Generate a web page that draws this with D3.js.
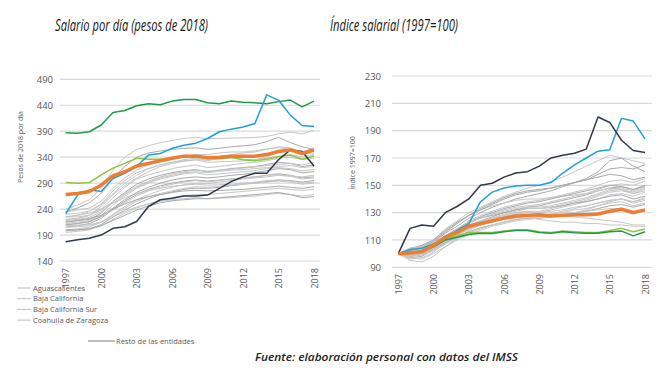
<!DOCTYPE html>
<meta charset="utf-8">
<script src="https://d3js.org/d3.v7.min.js"></script>
<style>
  body { margin: 0; background: #fff; }
  text { font-family: "Open Sans", "DejaVu Sans", sans-serif; }
</style>
<div id="chart"></div>
<script>

// years on the x axis
var years = d3.range(1997, 2019);
var yearTicks = [1997, 2000, 2003, 2006, 2009, 2012, 2015, 2018];

// left panel: pesos of 2018 per day
var salTicks = [140, 190, 240, 290, 340, 390, 440, 490];
var salDarkGreen = [387,386,389,402,426,430,439,443,441,448,451,451,445,443,448,446,445,443,447,450,437,448];
var salBlue = [231,267,277,274,299,309,322,344,347,357,363,367,376,389,394,398,405,460,450,421,401,399];
var salOrange = [268,270,274,286,304,312,323,328,333,338,342,342,339,340,342,342,342,345,351,354,347,354];
var salLightGreen = [291,290,291,306,319,328,338,336,336,337,342,340,339,337,340,335,333,336,341,344,336,342];
var salNavy = [177,181,184,190,203,206,216,245,258,261,265,265,267,280,293,302,309,309,335,354,351,323];
var salGrey = [
  [240,248,258,280,315,340,355,362,368,372,376,378,376,376,377,377,378,380,385,388,385,392],
  [235,242,252,270,300,322,340,348,352,355,357,358,355,357,360,362,364,370,378,368,360,355],
  [225,228,235,250,275,295,310,318,325,330,335,338,333,338,345,348,350,355,360,358,350,345],
  [220,222,228,240,262,282,298,306,312,318,322,325,320,322,325,328,330,333,338,340,335,338],
  [215,218,220,232,255,272,288,298,305,310,314,316,312,315,318,320,322,326,330,328,322,325],
  [212,215,218,228,248,265,280,290,298,303,308,310,306,308,310,312,314,318,320,318,314,316],
  [218,220,224,235,252,268,282,292,300,305,310,312,310,313,315,316,318,320,322,324,320,322],
  [205,208,212,222,240,255,268,278,285,290,294,296,294,296,298,300,302,305,308,305,300,302],
  [200,202,205,215,230,245,258,268,276,282,287,290,289,292,295,298,300,302,305,303,298,300],
  [210,212,215,225,238,252,265,275,282,288,292,295,292,295,298,300,302,305,306,304,302,305],
  [198,200,202,210,225,238,250,260,268,273,278,280,280,282,285,288,290,293,296,295,292,295],
  [205,206,208,215,228,242,255,264,270,275,280,283,282,284,286,288,290,292,294,292,288,290],
  [195,197,200,208,220,232,242,250,256,262,266,268,268,270,272,274,276,278,280,278,276,278],
  [215,218,222,228,240,250,258,264,268,272,275,276,275,276,277,278,280,282,284,282,280,283],
  [225,228,232,240,252,262,270,276,280,284,286,288,286,287,288,290,292,295,296,294,290,292],
  [208,209,210,215,225,235,244,250,255,258,260,262,260,261,262,264,265,268,270,268,265,268],
  [200,200,202,208,218,228,238,246,252,256,258,260,260,262,264,266,268,270,272,268,262,264],
  [230,232,236,248,270,290,305,318,325,330,333,335,330,331,332,333,335,338,342,345,340,344],
  [220,222,228,245,268,285,300,312,322,328,332,335,335,337,338,336,335,340,350,355,350,358],
  [210,212,216,226,242,258,272,282,290,296,300,302,300,302,305,307,310,314,318,316,310,312],
  [225,225,228,238,255,270,284,294,302,308,312,315,313,315,317,319,321,324,326,328,325,330],
  [235,238,242,255,280,300,315,325,332,338,342,345,345,348,350,350,352,356,358,355,350,348]
];

// right panel: index 1997=100
var idxTicks = [90, 110, 130, 150, 170, 190, 210, 230];
var idxDarkGreen = [100,101,101.5,105,110,112,114,115,114.8,116,117,117,115.5,115,116,115.3,115,115,116,116.5,113,116];
var idxLightGreen = [100,101,102,106,111,113,115.5,115.5,115.5,116.5,117.5,117.5,116,115.5,116.5,116,115.5,115.5,117,118.5,116,118];
var idxBlue = [100,103,104,107,112,117,122,138,145,148,149.5,150,150,152,159,165,170,175,176,199,197,184];
var idxOrange = [100,100.5,101.5,106,112,115.5,120,122,124,126,127.5,128,128.5,127.5,128,128.5,128.5,129,131,132.5,130,132];
var idxNavy = [100,118.5,121,120,130,134.5,140,150,151.5,156,159,160,164,170,172,173.5,176.5,200,196,183,175.5,174];
var idxGrey = [
  [100,104,106,110,118,124,130,134,138,142,145,148,150,153,156,160,164,168,172,170,168,166],
  [100,102,104,108,115,120,126,130,134,137,140,142,144,146,149,152,155,160,168,170,164,160],
  [100,99,101,106,113,118,124,128,131,134,136,138,139,141,143,145,147,150,153,154,152,155],
  [100,98,99,104,111,117,122,126,129,132,134,135,136,138,140,142,144,147,150,151,150,153],
  [100,97,98,103,110,115,120,124,127,130,132,134,135,137,139,141,143,146,148,149,147,150],
  [100,96,97,101,108,113,118,122,125,128,130,131,131,133,135,137,139,142,145,146,144,147],
  [100,95,94,98,105,111,117,121,124,127,129,130,130,132,134,136,138,140,143,144,142,145],
  [100,101,103,107,113,118,123,126,128,130,132,133,133,134,135,137,138,140,142,143,140,142],
  [100,100,102,105,111,116,120,123,125,127,129,130,130,131,132,134,135,137,139,140,137,139],
  [100,99,100,104,109,114,118,121,123,125,127,128,128,129,130,132,133,135,137,138,135,137],
  [100,98,100,103,108,112,116,119,121,123,125,126,126,127,128,130,131,133,135,136,134,136],
  [100,97,96,100,105,110,114,117,120,122,124,125,126,127,128,130,132,135,138,140,138,141],
  [100,102,104,109,116,122,128,132,135,137,139,140,140,141,142,143,144,146,148,147,144,146],
  [100,103,106,110,117,123,128,132,136,140,143,145,146,148,150,152,154,156,158,157,154,156],
  [100,101,103,106,112,117,121,124,126,128,130,131,129,128,127,127,126,125,124,123,121,121],
  [100,99,101,104,110,115,119,122,124,126,127,127,125,124,123,123,122,122,121,121,120,120],
  [100,100,101,105,112,118,123,127,130,133,135,137,138,140,142,144,146,148,150,149,147,149],
  [100,98,99,102,107,111,115,118,121,123,125,126,127,129,131,133,135,137,139,140,138,140],
  [100,101,102,105,110,114,118,121,123,125,126,127,127,128,129,130,131,132,133,133,131,132],
  [100,102,105,109,116,122,128,133,137,141,144,146,147,148,150,152,154,158,162,163,162,165],
  [100,99,100,103,109,114,119,123,126,129,131,133,133,134,136,138,140,143,146,147,145,148],
  [100,104,105,108,113,118,123,126,129,131,133,134,134,135,137,139,141,144,147,148,146,149]
];

var legendNames = ["Aguascalientes", "Baja California", "Baja California Sur", "Coahuila de Zaragoza"];

var svg = d3.select("#chart").append("svg")
  .attr("width", 665)
  .attr("height", 370);

function drawPanel(opt) {
  var x = d3.scaleLinear().domain([1997, 2018]).range(opt.xr);
  var y = d3.scaleLinear().domain(opt.yd).range(opt.yr);
  var g = svg.append("g");

  // gridlines
  g.selectAll(".grid").data(opt.ticks).enter().append("line")
    .attr("x1", opt.gx[0]).attr("x2", opt.gx[1])
    .attr("y1", d => y(d)).attr("y2", d => y(d))
    .attr("stroke", "#d9d9d9").attr("stroke-width", 1.2);

  // y axis labels
  var yAxis = d3.axisLeft(y).tickValues(opt.ticks).tickSize(0).tickPadding(0);
  g.append("g").attr("transform", "translate(" + opt.ylx + ",0)").call(yAxis)
    .call(s => s.select(".domain").remove())
    .selectAll("text").attr("fill", "#595959").style("font-size", "9.5px");

  // x axis labels, rotated
  var xAxis = d3.axisBottom(x).tickValues(yearTicks).tickFormat(d3.format("d")).tickSize(0).tickPadding(0);
  g.append("g").attr("transform", "translate(0," + opt.xly + ")").call(xAxis)
    .call(s => s.select(".domain").remove())
    .selectAll("text")
      .attr("fill", "#595959").style("font-size", "9px")
      .attr("text-anchor", "end").attr("dy", "0.35em").attr("y", 0)
      .attr("transform", "rotate(-90)");

  // axis title
  g.append("text")
    .attr("transform", "translate(" + opt.tx + "," + opt.ty + ") rotate(-90)")
    .attr("text-anchor", "middle")
    .attr("fill", "#595959").style("font-size", "7px")
    .text(opt.ytitle);

  var line = d3.line().x((d, i) => x(years[i])).y(d => y(d));

  g.selectAll(".grey").data(opt.grey).enter().append("path")
    .attr("d", line).attr("fill", "none")
    .attr("stroke", (d, i) => i % 3 == 1 ? "#a9a9a9" : "#c6c6c6")
    .attr("stroke-width", 1);

  opt.series.forEach(function(s) {
    g.append("path").datum(s.values)
      .attr("d", line).attr("fill", "none")
      .attr("stroke", s.color).attr("stroke-width", s.w)
      .attr("stroke-linejoin", "round");
  });

  svg.append("text")
    .attr("x", opt.titleX).attr("y", 31)
    .attr("textLength", opt.titleW).attr("lengthAdjust", "spacingAndGlyphs")
    .style("font-style", "italic").style("font-size", "16.5px").attr("fill", "#1a1a1a")
    .text(opt.title);
}

drawPanel({
  xr: [65.7, 314], gx: [60, 320],
  yd: [140, 490], yr: [261, 79.3], ticks: salTicks,
  ylx: 53, xly: 268, tx: 23, ty: 147,
  ytitle: "Pesos de 2018  por día",
  grey: salGrey,
  series: [
    {values: salLightGreen, color: "#8dc63f", w: 1.5},
    {values: salDarkGreen, color: "#1f9a48", w: 1.5},
    {values: salBlue, color: "#1ea1d9", w: 1.5},
    {values: salNavy, color: "#2e3a4c", w: 1.5},
    {values: salOrange, color: "#ed7d31", w: 3.5}
  ],
  title: "Salario por día (pesos de 2018)", titleX: 55, titleW: 153
});

drawPanel({
  xr: [398.3, 645], gx: [391.7, 651.7],
  yd: [90, 230], yr: [267.3, 76], ticks: idxTicks,
  ylx: 381, xly: 274, tx: 355, ty: 163,
  ytitle: "Índice 1997=100",
  grey: idxGrey,
  series: [
    {values: idxLightGreen, color: "#8dc63f", w: 1.5},
    {values: idxDarkGreen, color: "#1f9a48", w: 1.5},
    {values: idxBlue, color: "#1ea1d9", w: 1.5},
    {values: idxNavy, color: "#2e3a4c", w: 1.5},
    {values: idxOrange, color: "#ed7d31", w: 3.5}
  ],
  title: "Índice salarial (1997=100)", titleX: 330, titleW: 128
});

// legend
var leg = svg.append("g");
legendNames.forEach(function(n, i) {
  var yy = 288 + i * 10.7;
  leg.append("line").attr("x1", 17).attr("x2", 31).attr("y1", yy).attr("y2", yy)
    .attr("stroke", "#bfbfbf").attr("stroke-width", 1);
  leg.append("text").attr("x", 33).attr("y", yy).attr("dy", "0.35em")
    .attr("fill", "#595959").style("font-size", "7.5px").text(n);
});
leg.append("line").attr("x1", 88).attr("x2", 115).attr("y1", 341).attr("y2", 341)
  .attr("stroke", "#7f7f7f").attr("stroke-width", 1);
leg.append("text").attr("x", 116).attr("y", 341).attr("dy", "0.35em")
  .attr("fill", "#595959").style("font-size", "7.5px").text("Resto de las entidades");

// source note
svg.append("text")
  .attr("x", 255).attr("y", 361)
  .attr("textLength", 263).attr("lengthAdjust", "spacingAndGlyphs")
  .style("font-style", "italic").style("font-weight", "600").style("font-size", "11px")
  .attr("fill", "#222")
  .text("Fuente: elaboración personal con datos del IMSS");

</script>
